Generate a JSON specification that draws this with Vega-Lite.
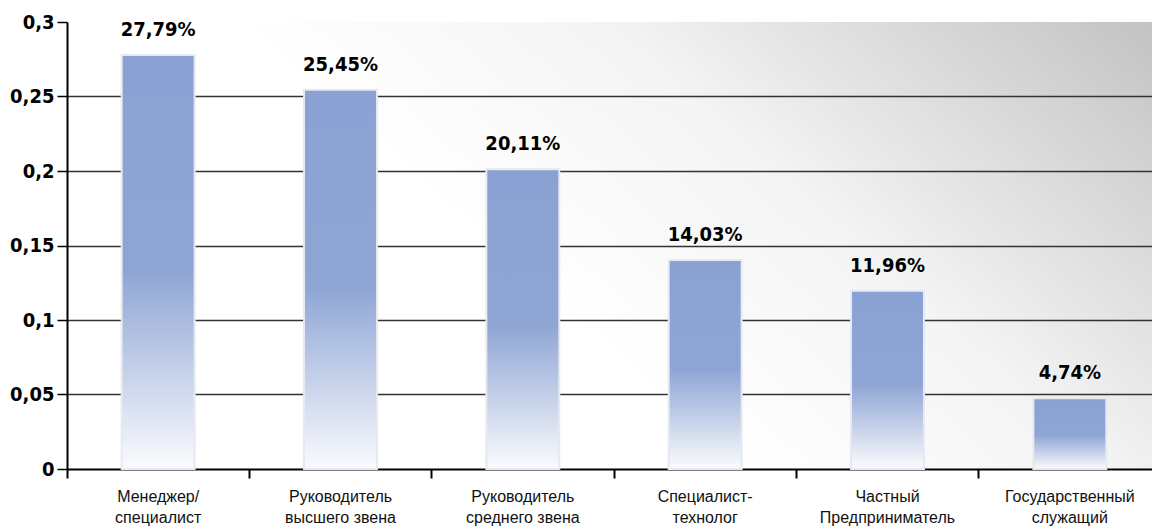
{
  "$schema": "https://vega.github.io/schema/vega-lite/v6.json",
  "width": 1094,
  "height": 447,
  "autosize": {"type": "none"},
  "padding": {"left": 67, "top": 22, "right": -9, "bottom": 60},
  "background": "#ffffff",
  "config": {
    "locale": {"number": {"decimal": ",", "thousands": " ", "grouping": [3], "currency": ["", ""]}},
    "view": {
      "stroke": null,
      "fill": {
        "gradient": "linear",
        "x1": 0.3, "y1": 0.324, "x2": 1, "y2": 0,
        "stops": [
          {"offset": 0, "color": "#ffffff"},
          {"offset": 0.4, "color": "#f4f4f4"},
          {"offset": 1, "color": "#c2c2c2"}
        ]
      }
    }
  },
  "data": {
    "values": [
      {"cat": "Менеджер/|специалист", "value": 0.2779},
      {"cat": "Руководитель|высшего звена", "value": 0.2545},
      {"cat": "Руководитель|среднего звена", "value": 0.2011},
      {"cat": "Специалист-|технолог", "value": 0.1403},
      {"cat": "Частный|Предприниматель", "value": 0.1196},
      {"cat": "Государственный|служащий", "value": 0.0474}
    ]
  },
  "encoding": {
    "x": {
      "field": "cat",
      "type": "nominal",
      "sort": null,
      "scale": {"paddingInner": 0, "paddingOuter": 0},
      "axis": {
        "title": null,
        "labelAngle": 0,
        "labelExpr": "split(datum.label, '|')",
        "labelFont": "Liberation Sans",
        "labelFontSize": 16,
        "labelColor": "#111111",
        "labelLineHeight": 21,
        "labelPadding": 10,
        "bandPosition": 0,
        "tickColor": "#000000",
        "tickWidth": 2,
        "tickSize": 9,
        "domainColor": "#000000",
        "domainWidth": 2,
        "grid": false
      }
    },
    "y": {
      "field": "value",
      "type": "quantitative",
      "scale": {"domain": [0, 0.3], "nice": false},
      "axis": {
        "title": null,
        "values": [0, 0.05, 0.1, 0.15, 0.2, 0.25, 0.3],
        "format": ".2~f",
        "labelFont": "DejaVu Sans Condensed",
        "labelFontWeight": "bold",
        "labelFontSize": 20,
        "labelColor": "#000000",
        "labelPadding": 3,
        "tickColor": "#000000",
        "tickWidth": 1.5,
        "tickSize": 10,
        "domainColor": "#000000",
        "domainWidth": 2,
        "grid": true,
        "gridColor": "#333333",
        "gridWidth": 1.5,
        "gridOpacity": {"condition": {"test": "datum.value >= 0.3 || datum.value <= 0", "value": 0}, "value": 1}
      }
    }
  },
  "layer": [
    {
      "mark": {
        "type": "bar",
        "width": {"band": 0.4},
        "stroke": "#e6e9f1",
        "strokeWidth": 2,
        "color": {
          "gradient": "linear",
          "x1": 0, "y1": 0, "x2": 0, "y2": 1,
          "stops": [
            {"offset": 0, "color": "#8aa2d3"},
            {"offset": 0.52, "color": "#8ea5d4"},
            {"offset": 1, "color": "#fafbfd"}
          ]
        }
      }
    },
    {
      "mark": {
        "type": "text",
        "baseline": "alphabetic",
        "dy": -19,
        "font": "DejaVu Sans Condensed",
        "fontWeight": "bold",
        "fontSize": 20,
        "color": "#000000"
      },
      "encoding": {
        "text": {"field": "value", "type": "quantitative", "format": ".2%"}
      }
    }
  ]
}
